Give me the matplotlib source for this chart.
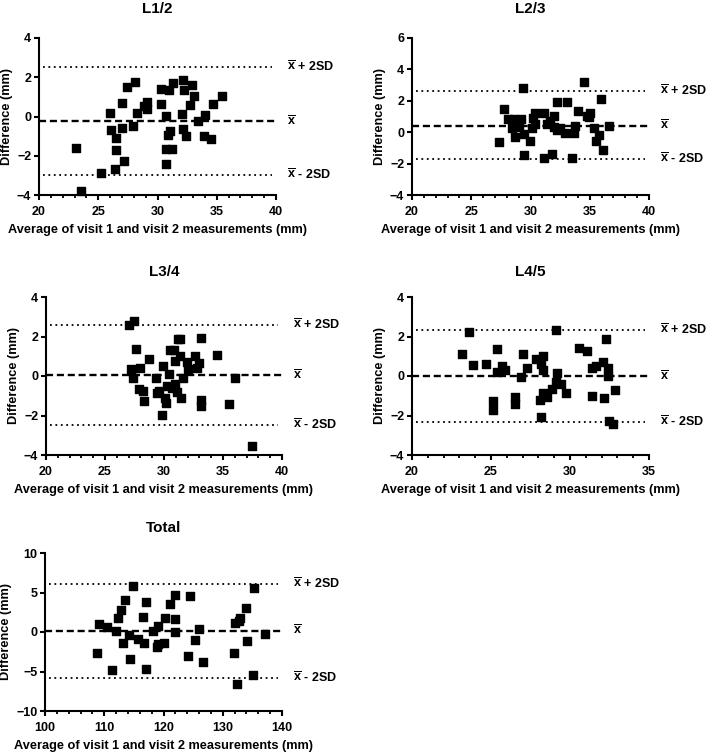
import matplotlib
matplotlib.use("Agg")
import matplotlib.pyplot as plt
from matplotlib.ticker import MultipleLocator

plt.rcParams["font.family"] = ["Liberation Sans", "DejaVu Sans"]
plt.rcParams["font.weight"] = "bold"
plt.rcParams["mathtext.fontset"] = "custom"
plt.rcParams["mathtext.rm"] = "Liberation Sans:bold"
plt.rcParams["mathtext.bf"] = "Liberation Sans:bold"

XLABEL = "Average of visit 1 and visit 2 measurements (mm)"
YLABEL = "Difference (mm)"

# L1/2
l12_x = [23.15, 23.55, 25.24, 26.0, 26.08, 26.54, 26.54, 26.45, 27.04, 27.04, 27.2, 27.4,
         28.14, 27.97, 28.25, 28.87, 29.1, 29.15, 30.3, 30.28, 30.68, 30.96, 31.3, 30.68,
         30.68, 30.9, 31.07, 31.2, 32.11, 32.25, 32.87, 32.06, 32.17, 32.37, 32.73, 33.04,
         33.41, 34.03, 33.89, 34.54, 34.68, 35.44]
l12_y = [-1.58, -3.78, -2.86, 0.2, -0.69, -1.10, -1.71, -2.68, 0.71, -0.58, -2.25, 1.49,
         1.75, -0.46, 0.2, 0.53, 0.75, 0.36, 1.42, 0.64, 0.03, 1.37, 1.69, -1.68,
         -2.44, -0.92, -0.73, -1.68, 1.86, 1.34, 1.59, 0.12, -0.63, -0.97, 0.59, 1.07,
         -0.22, 0.1, -1.0, -1.17, 0.63, 1.07]
l12_lines = [2.52, -0.24, -2.98]

# L2/3
l23_x = [27.33, 27.78, 28.06, 28.4, 28.62, 28.68, 29.07, 29.21, 29.33, 29.47, 29.49, 29.97,
         30.14, 30.2, 30.39, 30.42, 31.18, 31.18, 31.38, 31.66, 31.83, 31.99, 31.99, 32.22,
         32.22, 32.47, 32.87, 33.12, 33.54, 33.65, 33.74, 33.99, 34.52, 34.78, 34.94, 35.0,
         35.34, 35.51, 35.76, 35.96, 36.1, 36.63]
l23_y = [-0.65, 1.49, 0.81, 0.24, 0.87, -0.33, 0.34, 0.81, 2.82, -0.14, -1.48, -0.59,
         0.24, 0.92, 1.23, 0.51, -1.63, 1.23, 0.51, 0.72, -1.39, 0.34, 1.04, 0.13,
         1.91, 0.28, -0.08, 1.91, -1.67, -0.08, 0.39, 1.32, 3.22, 1.06, 0.94, 1.25,
         0.24, -0.59, -0.21, 2.14, -1.12, 0.39]
l23_lines = [2.61, 0.41, -1.73]

# L3/4
l34_x = [27.01, 27.46, 27.18, 27.38, 27.63, 27.97, 27.92, 28.2, 28.31, 28.7, 29.35, 29.44,
         29.55, 29.89, 29.83, 30.11, 30.17, 30.39, 30.28, 30.51, 30.7, 30.82, 30.96, 30.96,
         31.07, 31.15, 31.32, 31.35, 31.46, 31.58, 31.97, 32.0, 32.65, 32.76, 32.99, 33.1,
         33.15, 33.15, 34.51, 35.52, 36.03, 37.46]
l34_y = [2.59, 2.77, 0.33, -0.09, 1.39, 0.38, -0.68, -0.75, -1.29, 0.87, -0.09, -0.88,
         -0.75, 0.5, -1.96, -1.12, -1.37, 0.08, -0.5, 1.31, -0.61, 1.31, -0.43, 0.75,
         -0.81, 1.88, 1.88, 1.02, -1.12, -0.09, 0.7, 0.36, 1.02, 0.43, 0.65, 1.91,
         -1.24, -1.54, 1.04, -1.4, -0.09, -3.53]
l34_lines = [2.6, 0.04, -2.48]

# L4/5
l45_x = [23.18, 23.6, 23.88, 24.68, 25.12, 25.12, 25.35, 25.41, 25.67, 25.86, 26.51, 26.51,
         26.87, 27.04, 27.27, 27.86, 28.11, 28.15, 28.19, 28.26, 28.26, 28.28, 28.57, 28.83,
         29.1, 29.18, 29.1, 29.46, 29.73, 30.6, 31.08, 31.42, 31.42, 31.65, 32.09, 32.18,
         32.28, 32.43, 32.41, 32.45, 32.72, 32.85]
l45_y = [1.12, 2.22, 0.58, 0.63, -1.74, -1.29, 1.36, 0.21, 0.5, 0.31, -1.05, -1.4,
         -0.04, 1.09, 0.38, 0.87, -1.22, -2.06, 0.63, 0.99, 0.3, -0.88, -1.05, -0.66,
         2.35, 0.13, -0.28, -0.41, -0.88, 1.42, 1.26, -1.03, 0.38, 0.5, 0.72, -1.1,
         1.88, 0.38, -0.01, -2.28, -2.45, -0.73]
l45_lines = [2.32, -0.01, -2.35]

# Total
tot_x = [108.82, 109.1, 110.45, 111.24, 111.91, 112.25, 112.75, 113.2, 113.54, 114.21, 114.27,
         114.78, 115.67, 116.46, 116.69, 117.02, 117.13, 118.2, 118.88, 119.04, 118.99, 120.0,
         120.17, 121.18, 121.97, 122.02, 121.97, 124.1, 124.49, 125.34, 126.07, 126.63, 131.91,
         132.13, 132.42, 132.7, 132.92, 133.93, 134.04, 135.06, 135.28, 137.08]
tot_y = [-2.63, 1.03, 0.57, -4.86, 0.15, 1.75, 2.84, -1.37, 4.02, -0.4, -3.39,
         5.87, -0.86, 1.96, -1.33, -4.65, 3.77, 0.15, -1.87, 0.74, -1.49, -1.33,
         1.75, 3.52, 4.74, 1.62, 0.02, -3.09, 4.53, -1.07, 0.32, -3.85, -2.63,
         1.12, -6.63, 1.33, 1.75, 3.09, -1.2, -5.45, 5.58, -0.27]
tot_lines = [6.05, 0.15, -5.8]

line_labels = [r"$\overline{\mathbf{x}}$ + 2SD", r"$\overline{\mathbf{x}}$",
               r"$\overline{\mathbf{x}}$ - 2SD"]

W, H = 709, 755
fig = plt.figure(figsize=(W / 100, H / 100), dpi=100)


def make_axes(left, top, right, bottom):
    return fig.add_axes([left / W, 1 - bottom / H, (right - left) / W, (bottom - top) / H])


def bland_altman(ax, title, xs, ys, lines, xlim, ylim, xmajor, xminor, ystep, title_pad):
    ax.scatter(xs, ys, marker="s", s=26, color="black", zorder=3, clip_on=False)
    ax.axhline(lines[0], xmin=0.015, xmax=0.985, color="black", ls=(0, (1, 2)), lw=1.3)
    ax.axhline(lines[1], color="black", ls=(0, (3, 1.6)), lw=1.7)
    ax.axhline(lines[2], xmin=0.015, xmax=0.985, color="black", ls=(0, (1, 2)), lw=1.3)
    for v, lab in zip(lines, line_labels):
        ax.text(1.045, v, lab, transform=ax.get_yaxis_transform(), va="center", ha="left",
                fontsize=9, fontweight="bold")
    ax.set_xlim(*xlim)
    ax.set_ylim(*ylim)
    ax.xaxis.set_major_locator(MultipleLocator(xmajor))
    ax.xaxis.set_minor_locator(MultipleLocator(xminor))
    ax.yaxis.set_major_locator(MultipleLocator(ystep))
    for s in ("top", "right"):
        ax.spines[s].set_visible(False)
    for s in ("left", "bottom"):
        ax.spines[s].set_linewidth(1.5)
    ax.tick_params(which="major", length=3.5, width=1.5, labelsize=9)
    ax.tick_params(axis="x", which="major", pad=4.5)
    ax.tick_params(axis="y", which="major", pad=2)
    ax.tick_params(which="minor", length=2.5, width=1.3)
    for lab in ax.get_xticklabels() + ax.get_yticklabels():
        lab.set_fontweight("bold")
    ax.set_title(title, fontsize=11, fontweight="bold", pad=title_pad)
    ax.set_xlabel(XLABEL, fontsize=9.2, fontweight="bold", labelpad=4)
    ax.set_ylabel(YLABEL, fontsize=9.2, fontweight="bold", labelpad=3)


ax1 = make_axes(39, 38, 276, 195)
bland_altman(ax1, "L1/2", l12_x, l12_y, l12_lines, (20, 40), (-4, 4), 5, 1, 2, 18)
ax2 = make_axes(412, 38, 649, 195)
bland_altman(ax2, "L2/3", l23_x, l23_y, l23_lines, (20, 40), (-4, 6), 5, 1, 2, 18)
ax3 = make_axes(46, 297, 282, 455)
bland_altman(ax3, "L3/4", l34_x, l34_y, l34_lines, (20, 40), (-4, 4), 5, 1, 2, 15)
ax4 = make_axes(412, 297, 649, 455)
bland_altman(ax4, "L4/5", l45_x, l45_y, l45_lines, (20, 35), (-4, 4), 5, 1, 2, 15)
ax5 = make_axes(45, 553, 282, 711)
bland_altman(ax5, "Total", tot_x, tot_y, tot_lines, (100, 140), (-10, 10), 10, 2, 5, 15)

fig.savefig("out.png", dpi=100, facecolor="white")
